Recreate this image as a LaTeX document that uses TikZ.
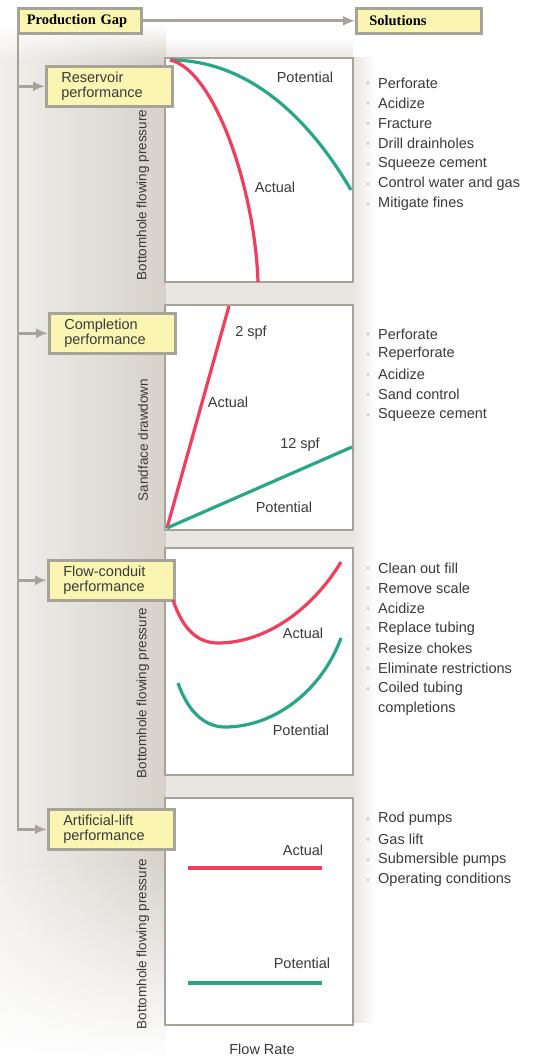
\documentclass[tikz,border=0pt]{standalone}
\usepackage{fontspec}
\setmainfont{Liberation Sans}
\newfontfamily\headfont{Liberation Serif}
\usetikzlibrary{positioning}
\usetikzlibrary{arrows.meta}
\usetikzlibrary{fadings}

\definecolor{boxyellow}{RGB}{250,246,178}
\definecolor{framegray}{RGB}{168,163,152}
\definecolor{curvered}{RGB}{240,62,92}
\definecolor{curvegreen}{RGB}{40,166,136}
\definecolor{inkgray}{RGB}{58,58,58}
\definecolor{shadowgray}{RGB}{214,210,202}

\tikzset{
  headbox/.style={draw=framegray, line width=2.6pt, fill=boxyellow, anchor=north west,
    minimum height=25pt, inner ysep=0pt, align=left,
    font=\headfont\bfseries\fontsize{14.5}{15}\selectfont},
  perfbox/.style={draw=framegray, line width=2.6pt, fill=boxyellow, anchor=north west,
    text width=96pt, inner xsep=15pt, minimum height=40pt, inner ysep=0pt, align=left,
    text=inkgray, font=\fontsize{14.5}{14.5}\selectfont},
  chartframe/.style={draw=framegray, line width=2.8pt, fill=white},
  conn/.style={draw=framegray, line width=2.8pt},
  tip/.style={-{Latex[length=12pt,width=10pt]}},
  curveA/.style={curvered, line width=3.2pt},
  curveB/.style={curvegreen, line width=3.2pt},
  lab/.style={text=inkgray, font=\fontsize{14.5}{16}\selectfont, inner sep=0pt},
  axislab/.style={lab, rotate=90, font=\fontsize{13.5}{15}\selectfont},
  item/.style={lab, anchor=west},
  dot/.style={fill=shadowgray}
}

\begin{document}
\begin{tikzpicture}[x=1pt, y=-1pt]
\useasboundingbox (0,0) rectangle (537,1059);

%background and shadow
\fill[white] (0,0) rectangle (537,1059);
\shade[left color=shadowgray!35, right color=shadowgray] (0,60) rectangle (166,860);
\shade[left color=shadowgray!35, right color=shadowgray, path fading=north] (0,25) rectangle (166,60.5);
\shade[left color=shadowgray!35, right color=shadowgray, path fading=south] (0,859.5) rectangle (166,1059);
\fill[shadowgray!55, path fading=north] (165.5,38) rectangle (353,58);
\fill[shadowgray!55] (165.5,58) rectangle (353,1022);
\shade[left color=shadowgray!55, right color=white] (352.5,58) rectangle (376,1022);

%chart frames
\draw[chartframe] (165,58) rectangle (353,282);
\draw[chartframe] (165,305) rectangle (353,530);
\draw[chartframe] (165,548) rectangle (353,775);
\draw[chartframe] (165,798) rectangle (353,1025);

%heads
\node[headbox, text width=106pt, inner xsep=8.5pt] (gap) at (17,7) {Production Gap};
\node[headbox, text width=99pt, inner xsep=13pt] (sol) at (355,7) {Solutions};
\draw[conn, tip] (gap.east) -- (sol.west);

%performance boxes
\node[perfbox] (res) at (45,65) {Reservoir\\performance};
\node[perfbox] (comp) at (48,312) {Completion\\performance};
\node[perfbox] (flow) at (47,559) {Flow-conduit\\performance};
\node[perfbox] (lift) at (47,808) {Artificial-lift\\performance};

%trunk
\coordinate (trunk) at (18,31);
\draw[conn, tip] (trunk) |- (lift.west);
\draw[conn, tip] (trunk |- res.west) -- (res.west);
\draw[conn, tip] (trunk |- comp.west) -- (comp.west);
\draw[conn, tip] (trunk |- flow.west) -- (flow.west);

%reservoir curves
\draw[curveB] (170,60) .. controls (250,60) and (310,120) .. (351,190);
\draw[curveA] (170,60) .. controls (215,70) and (255,190) .. (258,282);
\node[lab] (resPot) at (305,77) {Potential};
\node[lab] (resAct) at (275,187) {Actual};
\node[axislab] (resAxis) at (143,195) {Bottomhole flowing pressure};

%completion curves
\draw[curveA] (167,528) -- (229,306);
\draw[curveB] (167,528) -- (352,447);
\node[lab] (compTwo) at (251,333) {2 spf};
\node[lab] (compAct) at (228,402) {Actual};
\node[lab] (compTwelve) at (300,445) {12 spf};
\node[lab] (compPot) at (284,507) {Potential};
\node[axislab] (compAxis) at (143,440) {Sandface drawdown};

%flow-conduit curves
\draw[curveA] (173,600) .. controls (183,630) and (198,643) .. (218,643)
  .. controls (265,643) and (312,610) .. (341,562);
\draw[curveB] (178,683) .. controls (188,712) and (205,727) .. (225,727)
  .. controls (275,727) and (322,690) .. (341,638);
\node[lab] (flowAct) at (303,633) {Actual};
\node[lab] (flowPot) at (301,730) {Potential};
\node[axislab] (flowAxis) at (143,693) {Bottomhole flowing pressure};

%artificial-lift curves
\draw[curveA] (188,868) -- (322,868);
\draw[curveB] (188,983) -- (322,983);
\node[lab] (liftAct) at (303,850) {Actual};
\node[lab] (liftPot) at (302,963) {Potential};
\node[axislab] (liftAxis) at (143,944) {Bottomhole flowing pressure};

\node[lab] (rate) at (262,1049) {Flow Rate};

%solutions
\foreach \txt [count=\i] in {Perforate, Acidize, Fracture, Drill drainholes,
    Squeeze cement, Control water and gas, Mitigate fines} {
  \fill[dot] (368,{83+20.2*(\i-1)}) circle (1.8pt);
  \node[item] (solA\i) at (378,{83+20.2*(\i-1)}) {\txt};
}
\foreach \txt [count=\i] in {Perforate, Reperforate, Acidize, Sand control, Squeeze cement} {
  \fill[dot] (368,{334+20.2*(\i-1)}) circle (1.8pt);
  \node[item] (solB\i) at (378,{334+20.2*(\i-1)}) {\txt};
}
\foreach \txt [count=\i] in {Clean out fill, Remove scale, Acidize, Replace tubing,
    Resize chokes, Eliminate restrictions, Coiled tubing} {
  \fill[dot] (368,{568+20.1*(\i-1)}) circle (1.8pt);
  \node[item] (solC\i) at (378,{568+20.1*(\i-1)}) {\txt};
}
\node[item] (solC8) at (378,709) {completions};
\foreach \txt [count=\i] in {Rod pumps, Gas lift, Submersible pumps, Operating conditions} {
  \fill[dot] (368,{819+20.3*(\i-1)}) circle (1.8pt);
  \node[item] (solD\i) at (378,{819+20.3*(\i-1)}) {\txt};
}

\end{tikzpicture}
\end{document}
